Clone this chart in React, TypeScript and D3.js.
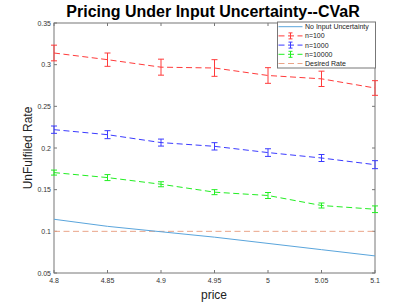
import * as d3 from "d3";
import React from "react";

const prices = [4.8, 4.85, 4.9, 4.95, 5.0, 5.05, 5.1];
const noUncertainty = [0.1145, 0.106, 0.0995, 0.093, 0.0855, 0.078, 0.0705];
const n100 = [0.314, 0.306, 0.297, 0.296, 0.287, 0.283, 0.272];
const n100Err = [0.0094, 0.008, 0.0096, 0.01, 0.0094, 0.0092, 0.0088];
const n1000 = [0.222, 0.216, 0.2065, 0.202, 0.1945, 0.188, 0.18];
const n1000Err = [0.0044, 0.0048, 0.0042, 0.0044, 0.0046, 0.0042, 0.0048];
const n10000 = [0.1705, 0.1645, 0.1565, 0.147, 0.143, 0.131, 0.1265];
const n10000Err = [0.003, 0.0036, 0.003, 0.003, 0.0036, 0.003, 0.004];
const desiredRate = 0.1;
const xTicks = [4.8, 4.85, 4.9, 4.95, 5, 5.05, 5.1];
const yTicks = [0.05, 0.1, 0.15, 0.2, 0.25, 0.3, 0.35];

const W = 415;
const H = 307;
const left = 54;
const right = 375;
const top = 23;
const bottom = 273;
const font = "'Liberation Sans', Arial, sans-serif";

export default function App() {
  const x = d3.scaleLinear().domain([4.8, 5.1]).range([left, right]);
  const y = d3.scaleLinear().domain([0.05, 0.35]).range([bottom, top]);
  const line = d3
    .line<number>()
    .x((_, i) => x(prices[i]))
    .y((d) => y(d));

  const series = [
    { name: "n=100", vals: n100, err: n100Err, color: "#ff3b3b" },
    { name: "n=1000", vals: n1000, err: n1000Err, color: "#3b3bff" },
    { name: "n=10000", vals: n10000, err: n10000Err, color: "#22ee22" },
  ];

  const legendItems = [
    { name: "No Input Uncertainty", color: "#5aa5dc", dash: null, bar: false },
    ...series.map((s) => ({ name: s.name, color: s.color, dash: "6,3.5", bar: true })),
    { name: "Desired Rate", color: "#eaa488", dash: "6,3.5", bar: false },
  ];

  const lx = 277.5;
  const ly = 22;
  const lw = 98;
  const lh = 46;

  return (
    <svg
      width={W}
      height={H}
      style={{ position: "absolute", left: 0, top: 0, background: "#fff" }}
      fontFamily={font}
    >
      <text x={213} y={17} textAnchor="middle" fontSize={16} fontWeight="bold" fill="#000">
        Pricing Under Input Uncertainty--CVaR
      </text>

      {/* axes box + ticks */}
      <rect x={left} y={top} width={right - left} height={bottom - top} fill="none" stroke="#777" strokeWidth={1} />
      {xTicks.map((t) => (
        <g key={"x" + t}>
          <line x1={x(t)} x2={x(t)} y1={bottom} y2={bottom - 3} stroke="#777" />
          <line x1={x(t)} x2={x(t)} y1={top} y2={top + 3} stroke="#777" />
          <text x={x(t)} y={bottom + 10} textAnchor="middle" fontSize={7} fill="#333">
            {d3.format("")(t)}
          </text>
        </g>
      ))}
      {yTicks.map((t) => (
        <g key={"y" + t}>
          <line x1={left} x2={left + 3} y1={y(t)} y2={y(t)} stroke="#777" />
          <line x1={right} x2={right - 3} y1={y(t)} y2={y(t)} stroke="#777" />
          <text x={left - 3} y={y(t) + 2.5} textAnchor="end" fontSize={7} fill="#333">
            {d3.format("")(t)}
          </text>
        </g>
      ))}

      <text x={214} y={299} textAnchor="middle" fontSize={12} fill="#222">
        price
      </text>
      <text
        transform={`translate(32, ${(top + bottom) / 2}) rotate(-90)`}
        textAnchor="middle"
        fontSize={12}
        fill="#222"
      >
        UnFulfiled Rate
      </text>

      {/* desired rate */}
      <line
        x1={left}
        x2={right}
        y1={y(desiredRate)}
        y2={y(desiredRate)}
        stroke="#eaa488"
        strokeDasharray="6,3.5"
      />
      {/* no input uncertainty */}
      <path d={line(noUncertainty) ?? ""} fill="none" stroke="#5aa5dc" strokeWidth={1} />

      {series.map((s) => (
        <g key={s.name}>
          <path d={line(s.vals) ?? ""} fill="none" stroke={s.color} strokeDasharray="6,3.5" />
          {s.vals.map((v, i) => {
            const cx = x(prices[i]);
            const y0 = y(v - s.err[i]);
            const y1 = y(v + s.err[i]);
            return (
              <g key={i} stroke={s.color}>
                <line x1={cx} x2={cx} y1={y0} y2={y1} />
                <line x1={cx - 3} x2={cx + 3} y1={y0} y2={y0} />
                <line x1={cx - 3} x2={cx + 3} y1={y1} y2={y1} />
              </g>
            );
          })}
        </g>
      ))}

      {/* legend */}
      <rect x={lx} y={ly} width={lw} height={lh} fill="#fff" stroke="#777" />
      {legendItems.map((it, i) => {
        const yy = ly + 4.7 + i * 9.2;
        return (
          <g key={it.name}>
            <line
              x1={lx + 1}
              x2={lx + 25}
              y1={yy}
              y2={yy}
              stroke={it.color}
              strokeDasharray={it.dash ?? undefined}
            />
            {it.bar && (
              <g stroke={it.color}>
                <line x1={lx + 13} x2={lx + 13} y1={yy - 3} y2={yy + 3} />
                <line x1={lx + 11} x2={lx + 15} y1={yy - 3} y2={yy - 3} />
                <line x1={lx + 11} x2={lx + 15} y1={yy + 3} y2={yy + 3} />
              </g>
            )}
            <text x={lx + 27.5} y={yy + 2.4} fontSize={7} fill="#222">
              {it.name}
            </text>
          </g>
        );
      })}
    </svg>
  );
}
